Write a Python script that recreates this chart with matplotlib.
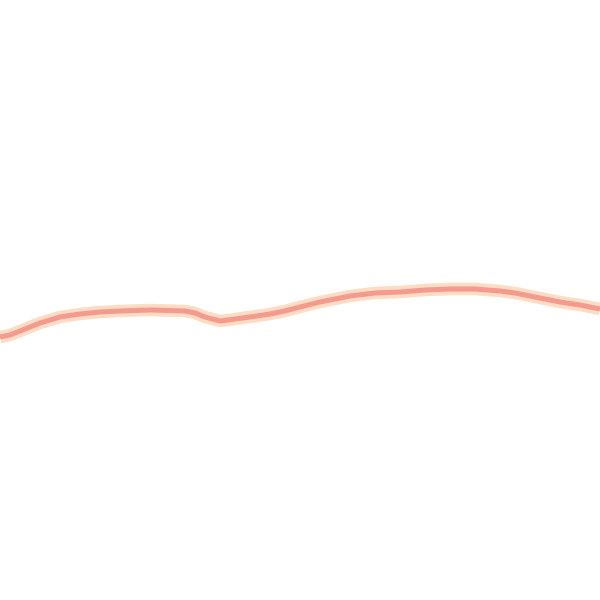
import matplotlib
matplotlib.use("Agg")
import matplotlib.pyplot as plt

# x positions and values (value = height from bottom)
x = [0, 10, 20, 30, 40, 50, 60, 80, 100, 120, 150, 185, 195, 205, 220, 235, 250, 270, 285, 300, 320, 335, 350, 375, 400, 425, 450, 475, 500, 515, 530, 545, 560, 580, 600]
y_px = [337, 335, 331, 327, 323, 320, 317, 314, 312, 311, 310, 311, 313, 317, 321, 319, 317, 314, 311, 307, 302, 299, 296, 293, 292, 290, 289, 289, 291, 293, 296, 299, 302, 305, 309]
y = [600 - v for v in y_px]

fig = plt.figure(figsize=(6, 6), dpi=100)
ax = fig.add_axes([0, 0, 1, 1])
ax.set_xlim(0, 600)
ax.set_ylim(0, 600)
ax.axis("off")
ax.plot(x, y, color="#FFDCC4", lw=9, solid_capstyle="butt", solid_joinstyle="round")
ax.plot(x, y, color="#F59A8E", lw=3.6, solid_capstyle="butt", solid_joinstyle="round")
fig.savefig("out.png", dpi=100, facecolor="white")
